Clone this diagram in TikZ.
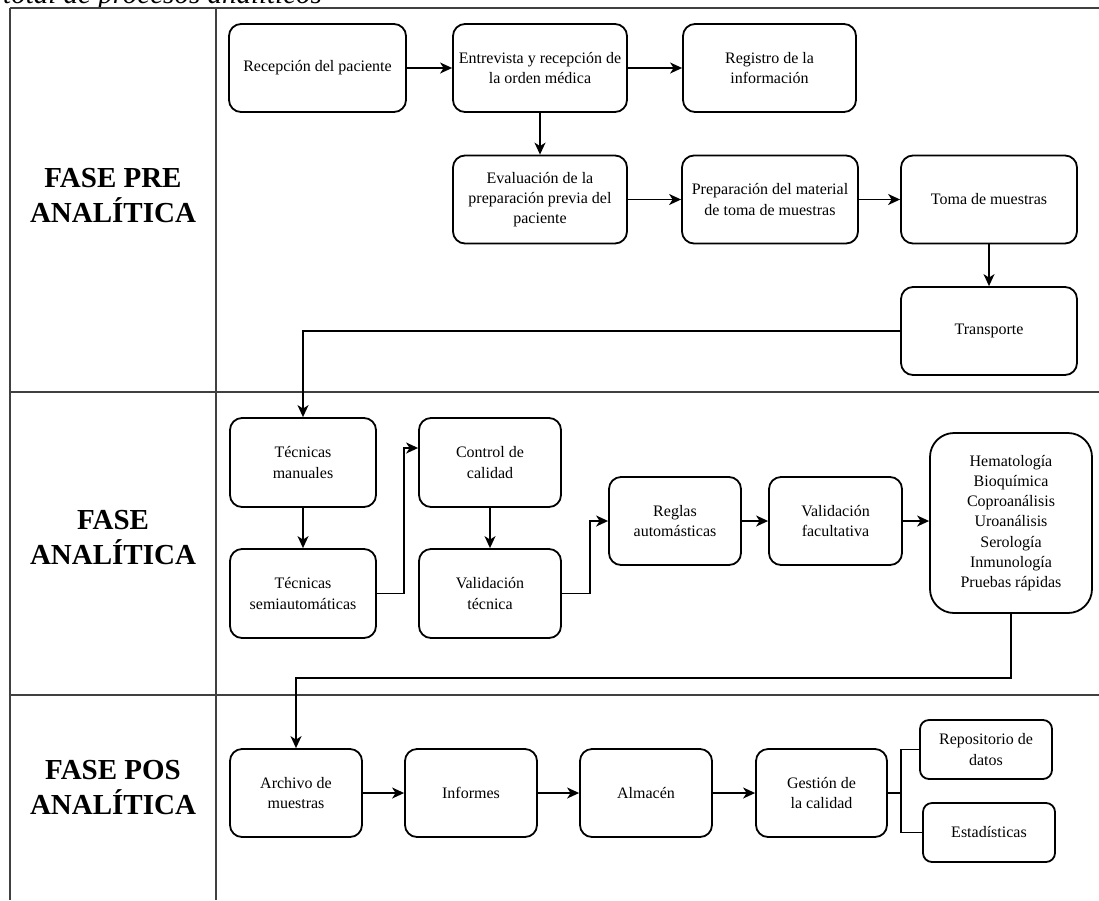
\documentclass[tikz,border=0pt]{standalone}
\usepackage{fontspec}
\setmainfont{Liberation Serif}
\usetikzlibrary{arrows.meta}
\tikzset{
  box/.style={draw, line width=1.8pt, rounded corners=12pt, align=center,
    font=\fontsize{16}{20.2}\selectfont, inner sep=2pt},
  arr/.style={line width=1.6pt, -{Stealth[length=12pt,width=11pt,inset=3.5pt]}},
  link/.style={line width=1.6pt},
  gridline/.style={line width=1.4pt, draw=black!75},
  phase/.style={font=\fontsize{29}{35}\selectfont\bfseries, align=center},
}
\begin{document}
\begin{tikzpicture}[x=1pt,y=-1pt]
\useasboundingbox (0,0) rectangle (1099,900);
% cut-off caption at the very top
\begin{scope}
\clip (0,0) rectangle (1099,7);
\node[anchor=base west, inner sep=0pt, font=\fontsize{29}{34}\selectfont\itshape] (cap) at (3,3) {total de procesos analíticos};
\end{scope}
% table lines
\draw[gridline] (10,8) -- (1099,8);
\draw[gridline] (10,8) -- (10,900);
\draw[gridline] (216,8) -- (216,900);
\draw[gridline] (10,392) -- (1099,392);
\draw[gridline] (10,695) -- (1099,695);
% phase labels
\node[phase] (p1) at (113,196) {FASE PRE\\ANALÍTICA};
\node[phase] (p2) at (113,538) {FASE\\ANALÍTICA};
\node[phase] (p3) at (113,788) {FASE POS\\ANALÍTICA};
% pre-analytic
\node[box, minimum width=177pt, minimum height=88pt] (rec) at (317.5,68) {Recepción del paciente};
\node[box, minimum width=174pt, minimum height=88pt] (ent) at (540,68) {Entrevista y recepción de\\la orden médica};
\node[box, minimum width=173pt, minimum height=88pt] (reg) at (769.5,68) {Registro de la\\información};
\node[box, minimum width=174pt, minimum height=88pt] (eva) at (540,199.5) {Evaluación de la\\preparación previa del\\paciente};
\node[box, minimum width=176pt, minimum height=88pt] (pre) at (770,199.5) {Preparación del material\\de toma de muestras};
\node[box, minimum width=176pt, minimum height=88pt] (tom) at (989,199.5) {Toma de muestras};
\node[box, minimum width=176pt, minimum height=88pt] (tra) at (989,331) {Transporte};
% analytic
\node[box, minimum width=146pt, minimum height=89pt] (tman) at (303,462.5) {Técnicas\\manuales};
\node[box, minimum width=146pt, minimum height=89pt] (tsemi) at (303,593.5) {Técnicas\\semiautomáticas};
\node[box, minimum width=142pt, minimum height=89pt] (ctrl) at (490,462.5) {Control de\\calidad};
\node[box, minimum width=142pt, minimum height=89pt] (vtec) at (490,593.5) {Validación\\técnica};
\node[box, minimum width=132pt, minimum height=88pt] (regl) at (675,521) {Reglas\\automásticas};
\node[box, minimum width=133pt, minimum height=88pt] (vfac) at (835.5,521) {Validación\\facultativa};
\node[box, rounded corners=24pt, minimum width=162pt, minimum height=180pt] (hem) at (1011,523) {Hematología\\Bioquímica\\Coproanálisis\\Uroanálisis\\Serología\\Inmunología\\Pruebas rápidas};
% post-analytic
\node[box, minimum width=132pt, minimum height=88pt] (arch) at (296,793) {Archivo de\\muestras};
\node[box, minimum width=132pt, minimum height=88pt] (inf) at (471,793) {Informes};
\node[box, minimum width=132pt, minimum height=88pt] (alm) at (646,793) {Almacén};
\node[box, minimum width=131pt, minimum height=88pt] (ges) at (821.5,793) {Gestión de\\la calidad};
\node[box, rounded corners=9pt, minimum width=132pt, minimum height=59pt] (rep) at (986,749.5) {Repositorio de\\datos};
\node[box, rounded corners=9pt, minimum width=132pt, minimum height=59pt] (est) at (989,832.5) {Estadísticas};
% helper coordinates
\coordinate (c1) at (404,448);
\coordinate (c2) at (590,521);
\coordinate (c3) at (296,678);
\coordinate (c4) at (901,793);
% connectors
\draw[arr] (rec) -- (ent);
\draw[arr] (ent) -- (reg);
\draw[arr] (ent) -- (eva);
\draw[arr] (eva) -- (pre);
\draw[arr] (pre) -- (tom);
\draw[arr] (tom) -- (tra);
\draw[arr] (tra.west) -| (tman.north);
\draw[arr] (tman) -- (tsemi);
\draw[arr] (tsemi.east) -| (c1) -- (ctrl.west |- c1);
\draw[arr] (ctrl) -- (vtec);
\draw[arr] (vtec.east) -| (c2) -- (regl.west);
\draw[arr] (regl) -- (vfac);
\draw[arr] (vfac.east) -- (vfac.east -| hem.west);
\draw[arr] (hem.south) |- (c3) -- (arch.north);
\draw[arr] (arch) -- (inf);
\draw[arr] (inf) -- (alm);
\draw[arr] (alm) -- (ges);
\draw[link] (ges.east) -- (c4);
\draw[link] (rep.west) -| (c4) |- (est.west);
\end{tikzpicture}
\end{document}
